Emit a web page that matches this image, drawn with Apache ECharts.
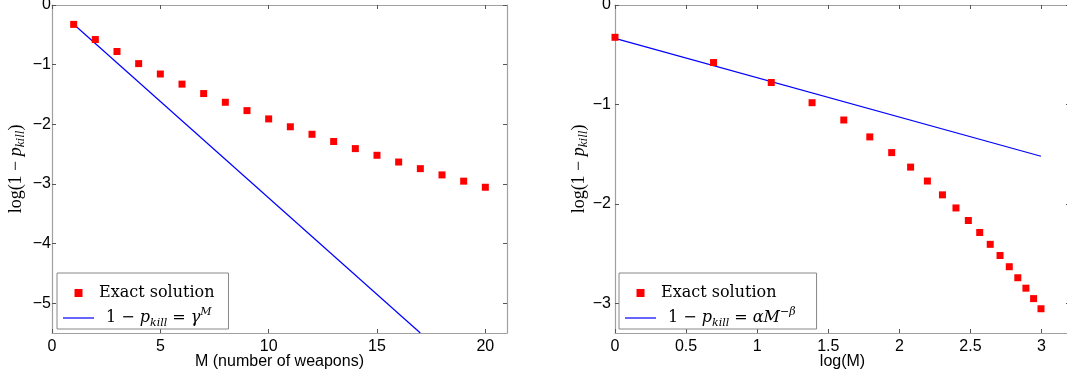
<!DOCTYPE html>
<html>
<head>
<meta charset="utf-8">
<script src="https://cdn.jsdelivr.net/npm/echarts@6/dist/echarts.min.js"></script>
<style>
html,body{margin:0;padding:0;background:#fff;}
#c{width:1067px;height:372px;}
</style>
</head>
<body>
<div id="c"></div>
<script>
// ---- data ----
const M = [1,2,3,4,5,6,7,8,9,10,11,12,13,14,15,16,17,18,19,20];
const logM = [0,0.693,1.099,1.386,1.609,1.792,1.946,2.079,2.197,2.303,2.398,2.485,2.565,2.639,2.708,2.773,2.833,2.890,2.944,2.996];
const exactY = [-0.325,-0.579,-0.780,-0.983,-1.157,-1.327,-1.485,-1.631,-1.771,-1.910,-2.042,-2.168,-2.289,-2.408,-2.520,-2.633,-2.744,-2.849,-2.954,-3.056];
const gammaLineX = [1, 17];
const gammaLineY = [-0.324, -5.5];
const powerLineX = [0, 2.996];
const powerLineY = [-0.335, -1.522];
const leftXTicks = [0,5,10,15,20];
const leftYTicks = [0,-1,-2,-3,-4,-5];
const rightXTicks = [0,0.5,1,1.5,2,2.5,3];
const rightYTicks = [0,-1,-2,-3];
const leftXName = 'M (number of weapons)';
const rightXName = 'log(M)';

const pair = (xs, ys) => xs.map((x, i) => [x, ys[i]]);

const AXIS_COLOR = '#a0a0a0';
const TICK_COLOR = '#555';
const SANS = 'Liberation Sans';
const SERIF = 'DejaVu Serif';
const YSERIF = 'Liberation Serif';

function fmtNum(v) {
  return (v < 0 ? '\u2212' + String(-v) : String(v));
}

function makeRich(fam, fs, sfs) {
  return {
    n: {fontFamily: fam, fontSize: fs, lineHeight: 22, color: '#000'},
    n2: {fontFamily: fam, fontSize: fs, lineHeight: 22, color: '#000', padding: [0,0,0,7]},
    i: {fontFamily: fam, fontSize: fs, fontStyle: 'italic', lineHeight: 22, color: '#000'},
    sub: {fontFamily: fam, fontSize: sfs, fontStyle: 'italic', lineHeight: 12, color: '#000', verticalAlign: 'bottom'},
    sup: {fontFamily: fam, fontSize: sfs, fontStyle: 'italic', lineHeight: 10, color: '#000', verticalAlign: 'top'},
    supn: {fontFamily: fam, fontSize: sfs, lineHeight: 10, color: '#000', verticalAlign: 'top'}
  };
}
const legendRich = makeRich(SERIF, 16, 11);
const yRich = makeRich(YSERIF, 18, 13);

const yNameRich = '{n|log(1 \u2212 }{i|p}{sub|kill}{n|)}';

function xAxisPair(gridIndex, min, max, ticks, name) {
  return [
    {
      type: 'value', gridIndex, position: 'bottom', min, max,
      name, nameLocation: 'middle', nameGap: 21, nameMoveOverlap: false,
      nameTextStyle: {fontFamily: SANS, fontSize: 16, color: '#000'},
      axisLine: {show: true, onZero: false, lineStyle: {color: AXIS_COLOR, width: 1.2}},
      axisTick: {show: true, inside: true, length: 4, customValues: ticks, lineStyle: {color: TICK_COLOR}},
      axisLabel: {show: true, customValues: ticks, margin: 6, formatter: fmtNum,
        fontFamily: SANS, fontSize: 16, color: '#000'},
      splitLine: {show: false}
    },
    {
      type: 'value', gridIndex, position: 'top', min, max,
      axisLine: {show: true, onZero: false, lineStyle: {color: AXIS_COLOR, width: 1.2}},
      axisTick: {show: true, inside: true, length: 4, customValues: ticks, lineStyle: {color: TICK_COLOR}},
      axisLabel: {show: false},
      splitLine: {show: false}
    }
  ];
}

function yAxisPair(gridIndex, min, max, ticks, labelMargin) {
  return [
    {
      type: 'value', gridIndex, position: 'left', min, max,
      name: yNameRich, nameLocation: 'middle', nameGap: 25, nameRotate: 90, nameMoveOverlap: false,
      nameTextStyle: {rich: yRich},
      axisLine: {show: true, onZero: false, lineStyle: {color: AXIS_COLOR, width: 1.2}},
      axisTick: {show: true, inside: true, length: 4, customValues: ticks, lineStyle: {color: TICK_COLOR}},
      axisLabel: {show: true, customValues: ticks, margin: labelMargin, formatter: fmtNum,
        fontFamily: SANS, fontSize: 16, color: '#000'},
      splitLine: {show: false}
    },
    {
      type: 'value', gridIndex, position: 'right', min, max,
      axisLine: {show: true, onZero: false, lineStyle: {color: AXIS_COLOR, width: 1.2}},
      axisTick: {show: true, inside: true, length: 4, customValues: ticks, lineStyle: {color: TICK_COLOR}},
      axisLabel: {show: false},
      splitLine: {show: false}
    }
  ];
}

const legendBase = {
  orient: 'vertical',
  itemWidth: 31, itemHeight: 8, itemGap: 6,
  borderColor: '#888', borderWidth: 1, backgroundColor: '#fff',
  selectedMode: false,
  textStyle: {fontFamily: SERIF, fontSize: 16, color: '#000', rich: legendRich}
};
const squareIcon = 'path://M0,0H10V10H0Z';
const lineIcon = 'path://M0,0H31V1.2H0Z';

const option = {
  animation: false,
  backgroundColor: '#fff',
  grid: [
    {left: 52, top: 5, width: 455, height: 328, outerBoundsMode: 'none', containLabel: false},
    {left: 615, top: 5, width: 455, height: 328, outerBoundsMode: 'none', containLabel: false}
  ],
  xAxis: [
    ...xAxisPair(0, 0, 21, leftXTicks, leftXName),
    ...xAxisPair(1, 0, 3.2, rightXTicks, rightXName)
  ],
  yAxis: [
    ...yAxisPair(0, -5.5, 0, leftYTicks, 1),
    ...yAxisPair(1, -3.3, 0, rightYTicks, 4)
  ],
  legend: [
    Object.assign({}, legendBase, {
      left: 57, top: 273,
      padding: [12, 14, 0, 6],
      data: [{name: 'Exact solution', icon: squareIcon}, {name: 'gammaFit', icon: lineIcon}],
      formatter: n => n === 'gammaFit'
        ? '{n2|1 \u2212 }{i|p}{sub|kill}{n| = }{i|\u03B3}{sup|M}'
        : '{n|Exact solution}'
    }),
    Object.assign({}, legendBase, {
      left: 619, top: 273,
      padding: [12, 21, 0, 6],
      data: [{name: 'Exact solution ', icon: squareIcon}, {name: 'powerFit', icon: lineIcon}],
      formatter: n => n === 'powerFit'
        ? '{n2|1 \u2212 }{i|p}{sub|kill}{n| = }{i|\u03B1M}{supn|\u2212}{sup|\u03B2}'
        : '{n|Exact solution}'
    })
  ],
  series: [
    {
      name: 'Exact solution', type: 'scatter', xAxisIndex: 0, yAxisIndex: 0,
      symbol: 'rect', symbolSize: 7, itemStyle: {color: '#ff0000', opacity: 1},
      data: pair(M, exactY), z: 3
    },
    {
      name: 'gammaFit', type: 'line', xAxisIndex: 0, yAxisIndex: 0,
      symbol: 'none', showSymbol: false, clip: true, lineStyle: {color: '#0000ff', width: 1.2},
      itemStyle: {color: '#0000ff'},
      data: pair(gammaLineX, gammaLineY), z: 2
    },
    {
      name: 'Exact solution ', type: 'scatter', xAxisIndex: 2, yAxisIndex: 2,
      symbol: 'rect', symbolSize: 7, itemStyle: {color: '#ff0000', opacity: 1},
      data: pair(logM, exactY), z: 3
    },
    {
      name: 'powerFit', type: 'line', xAxisIndex: 2, yAxisIndex: 2,
      symbol: 'none', showSymbol: false, clip: true, lineStyle: {color: '#0000ff', width: 1.2},
      itemStyle: {color: '#0000ff'},
      data: pair(powerLineX, powerLineY), z: 2
    }
  ]
};

const chart = echarts.init(document.getElementById('c'), null, {renderer: 'canvas'});
chart.setOption(option);
</script>
</body>
</html>
